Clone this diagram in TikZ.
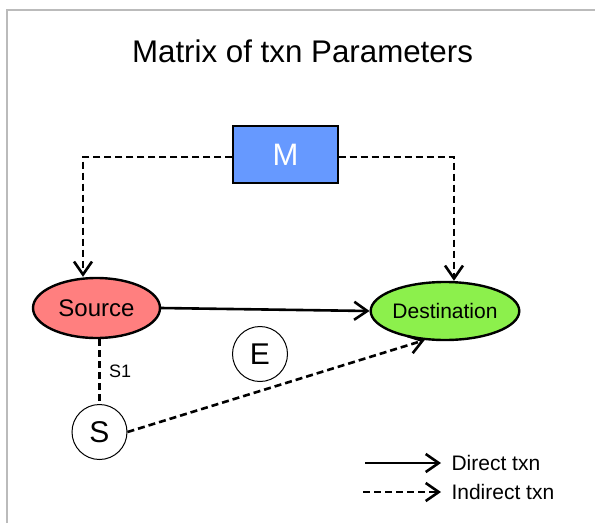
\documentclass[tikz,border=0pt]{standalone}
\usepackage{fontspec}
\setmainfont{Liberation Sans}
\usetikzlibrary{arrows.meta,shapes.geometric}
\definecolor{mblue}{HTML}{6699FF}
\definecolor{sred}{HTML}{FF7F7F}
\definecolor{dgreen}{HTML}{8CF04C}
\definecolor{frame}{HTML}{BBBBBB}
\tikzset{
  tip/.style={-{Straight Barb[length=13pt,width=18pt,line width=2.6pt]}},
  edge/.style={line width=2.6pt},
  dashedge/.style={line width=2.6pt,dash pattern=on 7pt off 4pt},
  oval/.style={ellipse,draw,line width=2.4pt,inner sep=0pt},
  circ/.style={circle,draw,line width=1pt,fill=white,minimum size=55pt,inner sep=0pt,font=\fontsize{30}{32}\selectfont},
}
\begin{document}
\begin{tikzpicture}[x=1pt,y=-1pt]
\useasboundingbox (0,0) rectangle (595,523);
\draw[frame,line width=1.6pt] (7,523) -- (7,10) -- (595,10);
\node[font=\fontsize{31.3}{34}\selectfont,anchor=base] (title) at (302.5,62) {Matrix of txn Parameters};
\node[draw,line width=1.2pt,fill=mblue,minimum width=105pt,minimum height=57pt,inner sep=0pt,text=white,font=\fontsize{31}{33}\selectfont] (M) at (285.5,154.5) {M};
\node[oval,fill=sred,minimum width=127pt,minimum height=60pt,font=\fontsize{24}{26}\selectfont] (src) at (96.5,308) {Source};
\node[oval,fill=dgreen,minimum width=126pt,minimum height=58pt,font=\fontsize{21}{24}\selectfont] (dst) at (445,311) {Destination};
\node[circ] (E) at (260,354) {E};
\node[circ] (S) at (99.5,432) {S};
\coordinate (c1) at (83,157);
\coordinate (c2) at (454,157);
\draw[dashedge,tip] (M.west |- c1) -- (c1) -- (c1 |- src.north);
\draw[dashedge,tip] (M.east |- c2) -- (c2) -- (c2 |- dst.north);
\draw[edge,tip] (src.east) -- (dst.west);
\draw[dashedge] (src.south -| S.north) -- node[right=5pt,font=\fontsize{18}{20}\selectfont] (s1) {S1} (S.north);
\draw[dashedge,tip] (S.east) -- (dst.235);
\coordinate (l1a) at (365,463);
\coordinate (l1b) at (441,463);
\coordinate (l2a) at (363,492);
\coordinate (l2b) at (441,492);
\draw[edge,tip] (l1a) -- (l1b);
\draw[dashedge,tip] (l2a) -- (l2b);
\node[anchor=west,font=\fontsize{21}{24}\selectfont] (lt1) at (448,463) {Direct txn};
\node[anchor=west,font=\fontsize{21}{24}\selectfont] (lt2) at (448,492) {Indirect txn};
\end{tikzpicture}
\end{document}
